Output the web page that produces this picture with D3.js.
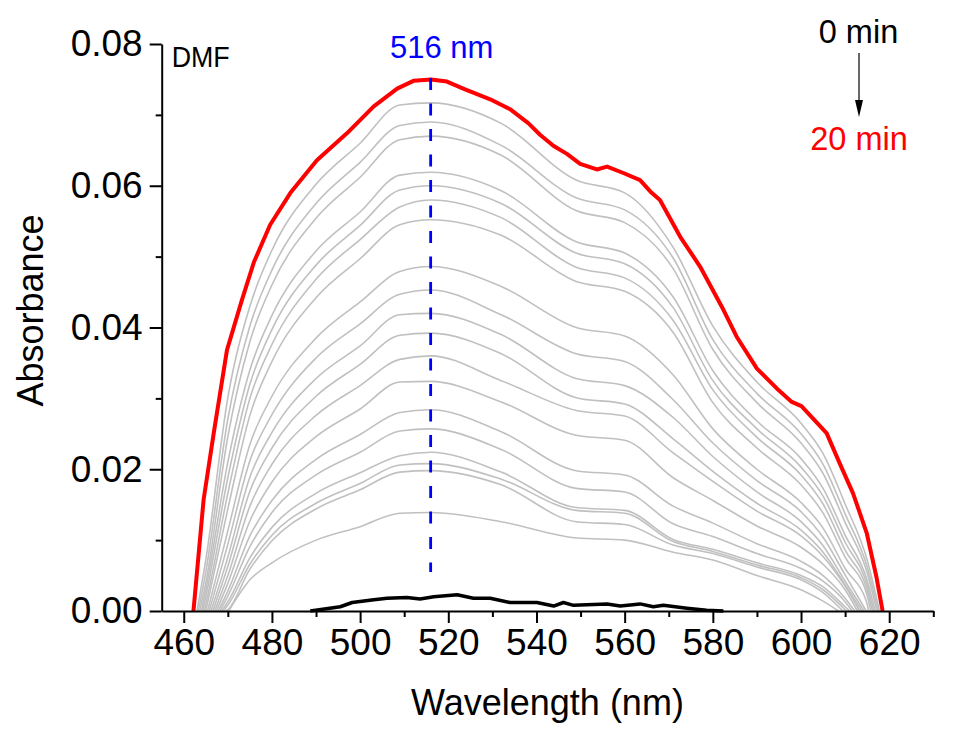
<!DOCTYPE html>
<html>
<head>
<meta charset="utf-8">
<script src="https://cdn.jsdelivr.net/npm/d3@7"></script>
<style>
  body { margin: 0; background: #fff; }
  text { font-family: Arial, "Liberation Sans", sans-serif; }
</style>
</head>
<body>
<div id="chart"></div>
<script>
// ---- data ----
const xTicks = [460, 480, 500, 520, 540, 560, 580, 600, 620];
const xMinor = [470, 490, 510, 530, 550, 570, 590, 610, 630];
const yTicks = [0, 0.02, 0.04, 0.06, 0.08];
const yMinor = [0.01, 0.03, 0.05, 0.07];

// 20 min (red) trace
const redNm  = [462.2, 464.5, 466.8, 469.8, 473.2, 475.9, 479.6, 484.2, 490.2, 497.0, 503.1, 508.4, 512.1, 516.1, 519.7, 523.8, 529.5, 534.0, 538.2, 540.8, 543.9, 546.9, 549.9, 553.7, 556.0, 559.7, 563.5, 565.8, 568.0, 572.6, 577.1, 582.4, 585.4, 590.0, 594.5, 597.9, 600.1, 605.8, 608.8, 611.8, 614.9, 617.1, 618.5];
const redAbs = [0, 0.0157, 0.0251, 0.0368, 0.0439, 0.0492, 0.0545, 0.0590, 0.0636, 0.0674, 0.0712, 0.0737, 0.0748, 0.0750, 0.0747, 0.0736, 0.0722, 0.0708, 0.0688, 0.0672, 0.0656, 0.0645, 0.0631, 0.0623, 0.0627, 0.0618, 0.0608, 0.0592, 0.0580, 0.0528, 0.0486, 0.0425, 0.0387, 0.0342, 0.0314, 0.0295, 0.0289, 0.0251, 0.0208, 0.0166, 0.0110, 0.0048, 0];

// 0 min (black) trace
const blackNm  = [488.7, 495.5, 498.2, 503.1, 506.1, 510.6, 513.6, 516.7, 522.0, 525.7, 529.5, 534.0, 540.1, 543.9, 546.1, 548.4, 556.0, 559.0, 563.5, 566.5, 568.8, 574.1, 578.6, 582.4];
const blackAbs = [0, 0.0006, 0.0012, 0.0016, 0.0018, 0.0019, 0.0017, 0.0020, 0.0023, 0.0018, 0.0018, 0.0012, 0.0012, 0.0007, 0.0012, 0.0008, 0.0010, 0.0007, 0.0010, 0.0006, 0.0008, 0.0004, 0.0001, 0];

// 1..19 min (grey) traces on a shared wavelength grid, null = below zero
const wavelengths = [465, 470, 475, 480, 490, 500, 509, 516, 532, 549, 560, 571, 580, 590, 600, 605, 610, 615];
const grayStart = [463.0, 463.3, 463.6, 464.0, 464.3, 464.6, 465.0, 465.4, 465.8, 466.2, 466.6, 467.0, 467.4, 467.8, 468.2, 468.6, 469.0, 469.5, 470.2];
const grayEnd   = [617.8, 617.5, 617.2, 616.8, 616.5, 616.2, 615.8, 615.3, 614.8, 614.3, 613.8, 613.3, 612.8, 612.2, 611.6, 611.0, 610.3, 609.5, 608.5];
const grayAbs = [
  [0.0072, 0.0301, 0.0430, 0.0509, 0.0602, 0.0660, 0.0714, 0.0717, 0.0688, 0.0608, 0.0590, 0.0513, 0.0402, 0.0323, 0.0265, 0.0222, 0.0151, 0.0072],
  [0.0055, 0.0271, 0.0402, 0.0481, 0.0575, 0.0633, 0.0685, 0.0690, 0.0657, 0.0583, 0.0566, 0.0498, 0.0383, 0.0307, 0.0250, 0.0207, 0.0137, 0.0062],
  [0.0040, 0.0246, 0.0380, 0.0460, 0.0554, 0.0612, 0.0665, 0.0670, 0.0643, 0.0565, 0.0548, 0.0483, 0.0369, 0.0294, 0.0237, 0.0194, 0.0125, 0.0054],
  [0.0030, 0.0210, 0.0340, 0.0417, 0.0508, 0.0563, 0.0615, 0.0619, 0.0593, 0.0521, 0.0505, 0.0443, 0.0339, 0.0268, 0.0215, 0.0173, 0.0107, 0.0043],
  [0.0020, 0.0188, 0.0320, 0.0397, 0.0488, 0.0544, 0.0594, 0.0600, 0.0575, 0.0505, 0.0490, 0.0428, 0.0325, 0.0257, 0.0203, 0.0162, 0.0097, 0.0036],
  [0.0010, 0.0166, 0.0300, 0.0376, 0.0468, 0.0524, 0.0570, 0.0580, 0.0555, 0.0485, 0.0470, 0.0410, 0.0312, 0.0245, 0.0192, 0.0151, 0.0086, 0.0029],
  [null, 0.0144, 0.0276, 0.0352, 0.0442, 0.0497, 0.0545, 0.0552, 0.0530, 0.0465, 0.0451, 0.0393, 0.0294, 0.0230, 0.0178, 0.0138, 0.0076, 0.0022],
  [null, 0.0113, 0.0235, 0.0303, 0.0385, 0.0436, 0.0479, 0.0486, 0.0458, 0.0400, 0.0388, 0.0333, 0.0257, 0.0200, 0.0153, 0.0117, 0.0060, 0.0010],
  [null, 0.0094, 0.0212, 0.0277, 0.0357, 0.0405, 0.0447, 0.0453, 0.0418, 0.0363, 0.0352, 0.0298, 0.0237, 0.0184, 0.0140, 0.0104, 0.0051, null],
  [null, 0.0076, 0.0189, 0.0252, 0.0328, 0.0374, 0.0418, 0.0420, 0.0390, 0.0328, 0.0318, 0.0273, 0.0218, 0.0168, 0.0126, 0.0092, 0.0042, null],
  [null, 0.0063, 0.0169, 0.0230, 0.0303, 0.0348, 0.0389, 0.0392, 0.0363, 0.0301, 0.0292, 0.0243, 0.0197, 0.0152, 0.0114, 0.0083, 0.0037, null],
  [null, 0.0050, 0.0148, 0.0207, 0.0276, 0.0318, 0.0355, 0.0360, 0.0325, 0.0283, 0.0275, 0.0223, 0.0183, 0.0141, 0.0106, 0.0077, 0.0035, null],
  [null, 0.0039, 0.0127, 0.0182, 0.0246, 0.0285, 0.0323, 0.0324, 0.0295, 0.0248, 0.0241, 0.0188, 0.0156, 0.0120, 0.0090, 0.0066, 0.0030, null],
  [null, 0.0028, 0.0106, 0.0156, 0.0214, 0.0249, 0.0280, 0.0284, 0.0253, 0.0198, 0.0192, 0.0148, 0.0124, 0.0095, 0.0070, 0.0050, 0.0018, null],
  [null, 0.0021, 0.0091, 0.0139, 0.0192, 0.0224, 0.0254, 0.0257, 0.0228, 0.0173, 0.0168, 0.0123, 0.0105, 0.0081, 0.0060, 0.0042, 0.0013, null],
  [null, 0.0013, 0.0075, 0.0118, 0.0166, 0.0195, 0.0219, 0.0224, 0.0196, 0.0146, 0.0142, 0.0101, 0.0087, 0.0068, 0.0050, 0.0034, 0.0006, null],
  [null, 0.0008, 0.0066, 0.0107, 0.0152, 0.0180, 0.0206, 0.0208, 0.0186, 0.0142, 0.0138, 0.0098, 0.0084, 0.0065, 0.0047, 0.0030, null, null],
  [null, 0.0002, 0.0059, 0.0099, 0.0144, 0.0171, 0.0196, 0.0198, 0.0178, 0.0126, 0.0122, 0.0093, 0.0081, 0.0062, 0.0044, 0.0026, null, null],
  [null, null, 0.0044, 0.0068, 0.0100, 0.0119, 0.0138, 0.0139, 0.0126, 0.0103, 0.0100, 0.0083, 0.0072, 0.0050, 0.0030, 0.0014, null, null]
];

// 516 nm marker
const peakNm = 516;
const peakRange = [0.0055, 0.0752];

// ---- layout ----
const margin = {top: 44, right: 24.7, bottom: 118, left: 161.7},
  width = 958 - margin.left - margin.right,
  height = 729 - margin.top - margin.bottom;

const svg = d3.select("#chart")
  .append("svg")
  .attr("width", 958)
  .attr("height", 729)
  .style("background", "#fff")
    .append("g")
    .attr("transform", `translate(${margin.left}, ${margin.top})`);

const x = d3.scaleLinear().domain([455, 630]).range([0, width]);
const y = d3.scaleLinear().domain([0, 0.08]).range([height, 0]);

const line = d3.line()
  .x(d => x(d[0]))
  .y(d => y(d[1]));

// grey curves get a light smoothing, the sampled grid is coarse
const smoothLine = d3.line()
  .curve(d3.curveMonotoneX)
  .x(d => x(d[0]))
  .y(d => y(d[1]));

const grayData = grayAbs.map((vals, i) => {
  const pts = [[grayStart[i], 0]];
  wavelengths.forEach((w, j) => {
    if (vals[j] != null && w > grayStart[i] && w < grayEnd[i]) pts.push([w, vals[j]]);
  });
  pts.push([grayEnd[i], 0]);
  return pts;
});

svg.append("g")
  .selectAll("path")
  .data(grayData)
  .join("path")
  .attr("d", smoothLine)
  .attr("fill", "none")
  .attr("stroke", "#c0c0c0")
  .attr("stroke-width", 1.6)
  .attr("stroke-linejoin", "round");

// 0 min
svg.append("path")
  .datum(d3.zip(blackNm, blackAbs))
  .attr("d", line)
  .attr("fill", "none")
  .attr("stroke", "#000")
  .attr("stroke-width", 3.5)
  .attr("stroke-linejoin", "round");

// 20 min
svg.append("path")
  .datum(d3.zip(redNm, redAbs))
  .attr("d", line)
  .attr("fill", "none")
  .attr("stroke", "#ff0000")
  .attr("stroke-width", 4)
  .attr("stroke-linejoin", "round");

// dashed 516 nm marker
svg.append("line")
  .attr("x1", x(peakNm)).attr("x2", x(peakNm))
  .attr("y1", y(peakRange[1])).attr("y2", y(peakRange[0]))
  .attr("stroke", "#0000ff")
  .attr("stroke-width", 2.8)
  .attr("stroke-dasharray", "12,13.5");

// ---- axes ----
svg.append("g")
  .attr("transform", `translate(0, ${height})`)
  .call(d3.axisBottom(x).tickValues(xTicks).tickSize(12).tickSizeOuter(0).tickPadding(6).tickFormat(d3.format("d")));
svg.append("g")
  .attr("transform", `translate(0, ${height})`)
  .call(d3.axisBottom(x).tickValues(xMinor).tickSize(6).tickSizeOuter(0).tickFormat(""))
  .select(".domain").remove();

svg.append("g")
  .call(d3.axisLeft(y).tickValues(yTicks).tickSize(12).tickSizeOuter(0).tickPadding(7).tickFormat(d3.format(".2f")));
svg.append("g")
  .call(d3.axisLeft(y).tickValues(yMinor).tickSize(6).tickSizeOuter(0).tickFormat(""))
  .select(".domain").remove();

svg.selectAll(".domain").attr("stroke", "#000").attr("stroke-width", 2);
svg.selectAll(".tick line").attr("stroke", "#000").attr("stroke-width", 2);
svg.selectAll(".tick text")
  .attr("font-family", "Arial, 'Liberation Sans', sans-serif")
  .attr("font-size", 37)
  .attr("fill", "#000");

// axis titles
svg.append("text")
  .attr("x", width / 2)
  .attr("y", height + 104)
  .attr("text-anchor", "middle")
  .attr("font-size", 36)
  .text("Wavelength (nm)");

svg.append("text")
  .attr("transform", `translate(${-119}, ${height / 2 - 17}) rotate(-90)`)
  .attr("text-anchor", "middle")
  .attr("font-size", 36)
  .text("Absorbance");

// annotations
svg.append("text")
  .attr("x", 10).attr("y", 22.5)
  .attr("font-size", 30)
  .attr("textLength", 58)
  .attr("lengthAdjust", "spacingAndGlyphs")
  .text("DMF");

svg.append("text")
  .attr("x", x(peakNm) + 11).attr("y", 14)
  .attr("text-anchor", "middle")
  .attr("font-size", 31)
  .attr("fill", "#0000ff")
  .text("516 nm");

svg.append("text")
  .attr("x", 858.5 - margin.left).attr("y", -1)
  .attr("text-anchor", "middle")
  .attr("font-size", 32.5)
  .text("0 min");

svg.append("text")
  .attr("x", 859 - margin.left).attr("y", 106)
  .attr("text-anchor", "middle")
  .attr("font-size", 32.5)
  .attr("fill", "#ff0000")
  .text("20 min");

// arrow 0 min -> 20 min
svg.append("line")
  .attr("x1", 859 - margin.left).attr("x2", 859 - margin.left)
  .attr("y1", 9).attr("y2", 62)
  .attr("stroke", "#000")
  .attr("stroke-width", 1.2);
svg.append("path")
  .attr("d", `M${859 - margin.left - 4},${56} L${859 - margin.left + 4},${56} L${859 - margin.left},${73} Z`)
  .attr("fill", "#000");
</script>
</body>
</html>
